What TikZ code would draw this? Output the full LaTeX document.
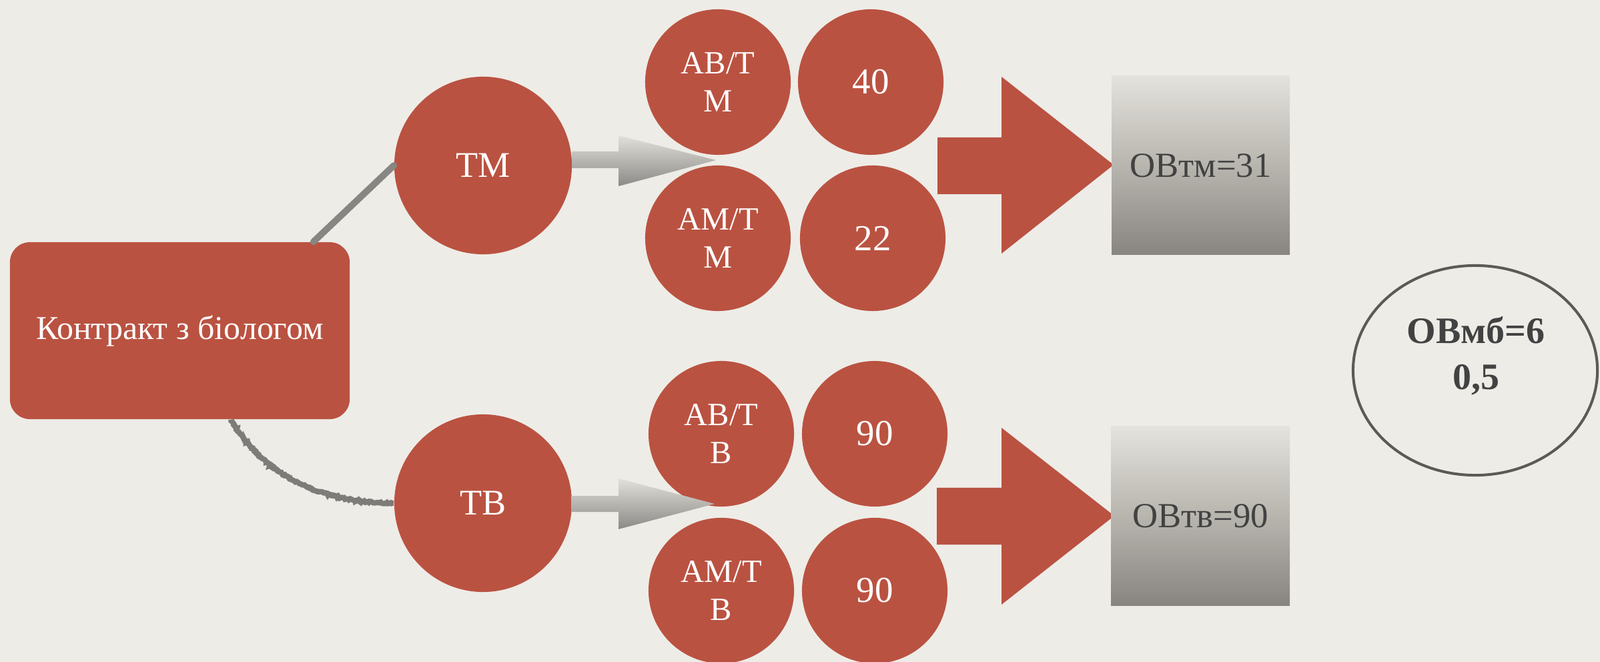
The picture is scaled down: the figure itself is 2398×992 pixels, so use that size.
\documentclass[tikz,border=0pt]{standalone}
\usepackage{fontspec}
\setmainfont{Liberation Serif}
\usetikzlibrary{shapes.geometric,decorations.pathmorphing}
\definecolor{bg}{RGB}{238,236,231}
\definecolor{redf}{RGB}{186,82,65}
\definecolor{connc}{RGB}{135,134,130}
\definecolor{roughc}{RGB}{125,124,121}
\definecolor{boxtop}{RGB}{228,226,220}
\definecolor{boxmid}{RGB}{184,181,175}
\definecolor{boxbot}{RGB}{136,132,128}
\definecolor{arrtop}{RGB}{226,224,218}
\definecolor{arrbot}{RGB}{140,138,134}
\definecolor{txtg}{RGB}{66,66,66}
\definecolor{ringc}{RGB}{92,90,87}
\begin{document}
\begin{tikzpicture}[x=0.01cm,y=-0.01cm,
  redrect/.style={fill=redf,rounded corners=0.3cm,minimum width=5.09cm,minimum height=2.65cm,inner sep=0pt,text=white,font=\fontsize{14.2pt}{17pt}\selectfont},
  bigc/.style={circle,fill=redf,minimum size=2.66cm,inner sep=0pt,text=white,font=\fontsize{15.4pt}{18pt}\selectfont},
  smallc/.style={circle,fill=redf,minimum size=2.18cm,inner sep=0pt,text=white,align=center,font=\fontsize{13.8pt}{16pt}\selectfont},
  numc/.style={circle,fill=redf,minimum size=2.18cm,inner sep=0pt,text=white,font=\fontsize{15.6pt}{18pt}\selectfont},
  ovbox/.style={rectangle,minimum width=2.67cm,minimum height=2.68cm,inner sep=0pt,text=txtg,font=\fontsize{15pt}{18pt}\selectfont},
  conn/.style={draw=connc,line width=2.8pt,line cap=round},
  rough/.style={draw=roughc,line width=2.3pt,decorate,decoration={random steps,segment length=0.6pt,amplitude=0.35pt}},
  redarrow/.style={fill=redf},
  grayarrow/.style={top color=arrtop,bottom color=arrbot,draw=none}
]
\fill[bg] (0,0) rectangle (2398,992);
\useasboundingbox (0,0) rectangle (2398,992);

% main nodes
\node[redrect] (c) at (269.5,495.5) {Контракт з біологом};
\node[bigc] (tm) at (724,248) {ТМ};
\node[bigc] (tb) at (724,754) {ТВ};

% connectors
\draw[conn] ([xshift=-0.55cm]c.north east) -- (tm.west);
\draw[rough] ([xshift=0.765cm]c.south) .. controls (395,712) and (480,754) .. (tb.west);

% small circles upper
\node[smallc] (abtm) at (1076,123) {АВ/Т\\М};
\node[numc] (n40) at (1305,123) {40};
\node[smallc] (amtm) at (1076,357) {АМ/Т\\М};
\node[numc] (n22) at (1308,357) {22};

% small circles lower
\node[smallc] (abtb) at (1081,650) {АВ/Т\\В};
\node[numc] (n90a) at (1311,650) {90};
\node[smallc] (amtb) at (1081,885) {АМ/Т\\В};
\node[numc] (n90b) at (1311,885) {90};

% gray block arrows
\shade[grayarrow] (857,227) -- (927,227) -- (927,203) -- (1073,240) -- (927,279) -- (927,252) -- (857,252) -- cycle;
\shade[grayarrow] (856,743) -- (927,743) -- (927,717) -- (1071,755) -- (927,793) -- (927,767) -- (856,767) -- cycle;

% red block arrows
\fill[redarrow] (1405,206) -- (1501,206) -- (1501,115) -- (1669,247) -- (1501,380) -- (1501,291) -- (1405,291) -- cycle;
\fill[redarrow] (1404,731) -- (1501,731) -- (1501,641) -- (1670,773) -- (1501,906) -- (1501,816) -- (1404,816) -- cycle;

% OV boxes
\shade[top color=boxtop,bottom color=boxbot,middle color=boxmid] (1666,114) rectangle (1933,382);
\node[ovbox] (ovtm) at (1799.5,248) {ОВтм=31};
\shade[top color=boxtop,bottom color=boxbot,middle color=boxmid] (1665,639) rectangle (1933,907);
\node[ovbox] (ovtb) at (1799,773) {ОВтв=90};

% ring
\node[ellipse,draw=ringc,line width=1.15pt,minimum width=3.66cm,minimum height=3.14cm,inner sep=0pt] (ring) at (2211,555) {};
\node[align=center,text=txtg,font=\bfseries\fontsize{15.9pt}{19.6pt}\selectfont] (ringtxt) at (2212,533) {ОВмб=6\\0,5};
\end{tikzpicture}
\end{document}
